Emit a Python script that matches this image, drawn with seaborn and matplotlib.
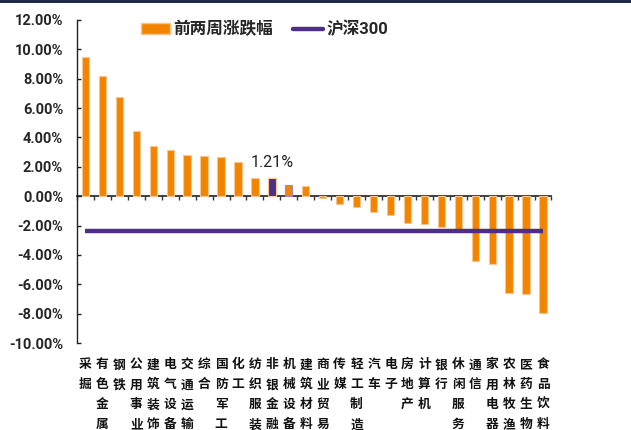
import matplotlib
matplotlib.use("Agg")
import matplotlib.pyplot as plt
from matplotlib.patches import Patch, Rectangle
from matplotlib.lines import Line2D
import seaborn as sns
import pandas as pd
import numpy as np

# Industry returns over the past two weeks (%)
industries = ["采掘", "有色金属", "钢铁", "公用事业", "建筑装饰", "电气设备", "交通运输",
              "综合", "国防军工", "化工", "纺织服装", "非银金融", "机械设备", "建筑材料",
              "商业贸易", "传媒", "轻工制造", "汽车", "电子", "房地产", "计算机", "银行",
              "休闲服务", "通信", "家用电器", "农林牧渔", "医药生物", "食品饮料"]
returns = [9.51, 8.20, 6.73, 4.43, 3.42, 3.17, 2.80, 2.71, 2.67, 2.30, 1.24, 1.21,
           0.79, 0.72, -0.10, -0.50, -0.72, -1.10, -1.27, -1.86, -1.88, -2.10,
           -2.35, -4.42, -4.65, -6.60, -6.67, -7.94]
highlight = "非银金融"
hs300_return = -2.37

yticks = [12, 10, 8, 6, 4, 2, 0, -2, -4, -6, -8, -10]

ORANGE = "#F28500"
ORANGE_EDGE = "#F9C590"
PURPLE = "#4E2F86"
PURPLE_EDGE = "#9D88C2"

sns.set_theme(style="white")
plt.rcParams["font.family"] = ["Noto Sans CJK SC", "DejaVu Sans"]
plt.rcParams["axes.unicode_minus"] = False

df = pd.DataFrame({"industry": industries, "ret": returns})
df["grp"] = np.where(df["industry"] == highlight, "hl", "base")

fig = plt.figure(figsize=(6.31, 4.30), dpi=100)
ax = fig.add_axes([0.122, 0.2023, 0.752, 0.7512])

sns.barplot(data=df, x="industry", y="ret", hue="grp",
            palette={"base": ORANGE, "hl": PURPLE}, dodge=False,
            width=0.43, legend=False, ax=ax, saturation=1)
for bar, g in zip(ax.patches, df["grp"]):
    bar.set_edgecolor(PURPLE_EDGE if g == "hl" else ORANGE_EDGE)
    bar.set_linewidth(0.8)

sns.lineplot(x=np.arange(len(industries)), y=[hs300_return] * len(industries),
             color=PURPLE, linewidth=3.2, ax=ax, solid_capstyle="butt")

# value label over the highlighted bar
hi = industries.index(highlight)
ax.text(hi, returns[hi] + 0.6, f"{returns[hi]:.2f}%", ha="center", va="bottom",
        fontsize=11.5, family=["Roboto", "DejaVu Sans"], color="#222222")

ax.set_xlim(-0.5, len(industries) - 0.5)
ax.set_ylim(-10, 12)
ax.set_yticks(yticks)
ax.set_yticklabels([f"{v:.2f}%" for v in yticks],
                   fontdict={"family": ["Roboto", "DejaVu Sans"], "weight": "bold", "size": 10.5})
ax.tick_params(axis="y", direction="in", length=3, width=1, color="#222222", pad=10,
               left=True)

ax.set_xticks(range(len(industries)))
ax.set_xticklabels(["\n".join(n) for n in industries], fontsize=9.2, linespacing=1.7,
                   va="top", color="#111111", fontweight="bold")
ax.tick_params(axis="x", length=0, pad=11)
ax.set_xlabel("")
ax.set_ylabel("")

for s in ["top", "right", "bottom"]:
    ax.spines[s].set_visible(False)
ax.spines["left"].set_color("#222222")
ax.spines["left"].set_linewidth(1)

# zero axis with ticks between categories
zero_frac = (0 - (-10)) / 22
ax0 = ax.secondary_xaxis(zero_frac)
ax0.set_xticks(np.arange(len(industries) + 1) - 0.5)
ax0.tick_params(axis="x", direction="out", length=3, width=1, color="#333333",
                labelbottom=False, labeltop=False)
for s, sp in ax0.spines.items():
    sp.set_color("#333333")
    sp.set_linewidth(1.3)

handles = [Patch(facecolor=ORANGE, edgecolor=ORANGE_EDGE, label="前两周涨跌幅"),
           Line2D([0], [0], color=PURPLE, lw=3.2, label="沪深300")]
fig.legend(handles=handles, loc="center left", bbox_to_anchor=(0.199, 0.932),
           ncol=2, frameon=False, handlelength=1.78, handleheight=0.7,
           columnspacing=1.2, handletextpad=0.2,
           prop={"family": ["Roboto", "Noto Sans CJK SC"], "weight": "bold", "size": 12})

# dark band along the top edge
fig.patches.append(Rectangle((0, 0.994), 1, 0.006, transform=fig.transFigure,
                             facecolor="#1E2B48", edgecolor="none"))

fig.savefig("out.png", dpi=100)
